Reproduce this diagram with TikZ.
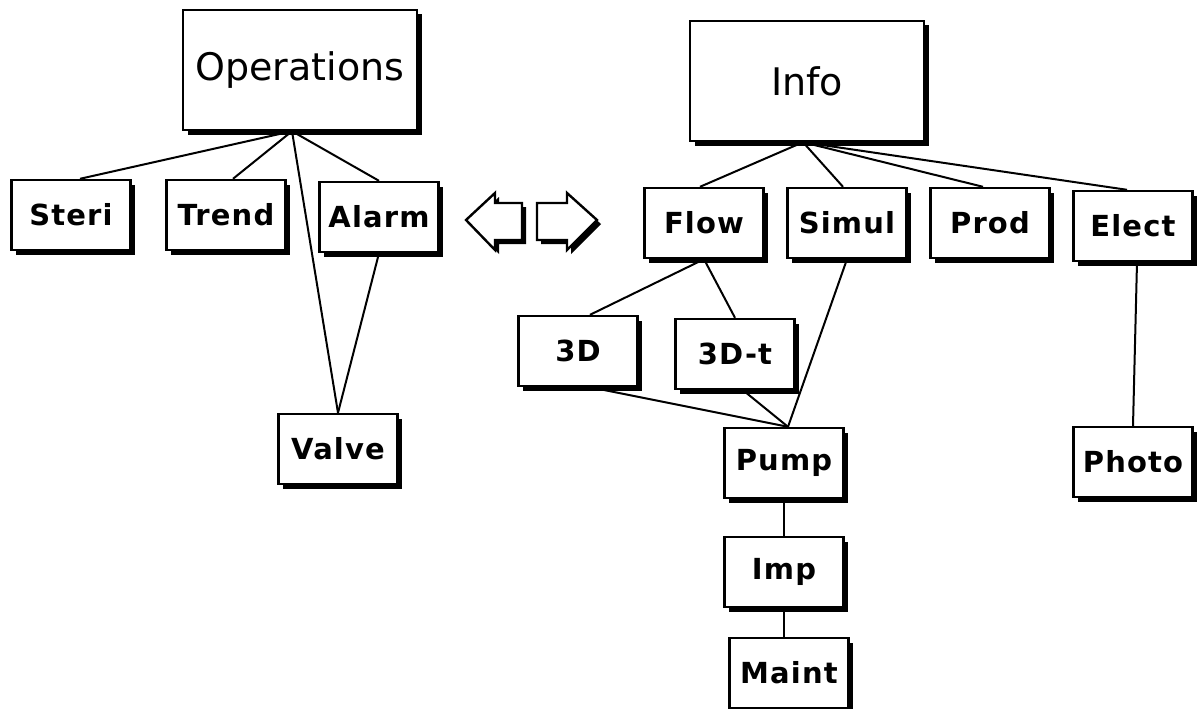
\documentclass[tikz,border=0pt]{standalone}
\usepackage{fontspec}
\setmainfont{DejaVu Sans}
\usetikzlibrary{shadows}

\begin{document}
\begin{tikzpicture}[x=1pt,y=-1pt,
    box/.style={draw,line width=2.4pt,fill=white,inner sep=0pt,
      minimum width=119pt,minimum height=70pt,
      font=\bfseries\fontsize{29}{32}\selectfont\addfontfeatures{LetterSpace=4},
      drop shadow={shadow xshift=4.5pt,shadow yshift=-4.5pt,fill=black,opacity=1}},
    bigbox/.style={box,minimum width=234pt,minimum height=120pt,
      font=\fontsize{38}{44}\selectfont},
    arrowbox/.style={draw,line width=2.4pt,fill=white,line join=miter,
      drop shadow={shadow xshift=4pt,shadow yshift=-4pt,fill=black,opacity=1}},
    link/.style={line width=2pt}]
  \useasboundingbox (0,0) rectangle (1200,709);

  % Operations -- Steri, Trend, Alarm, Valve
  \node[bigbox] (ops)   at (300,70)  {Operations};
  \node[box]    (steri) at (71,215)  {Steri};
  \node[box]    (trend) at (226,215) {Trend};
  \node[box]    (alarm) at (379,217) {Alarm};
  \node[box]    (valve) at (338,449) {Valve};
  \coordinate (opsroot) at ([xshift=-8pt]ops.south);

  % the two arrows in between
  \draw[arrowbox] (466,220) -- (495,193) -- (495,203) -- (522,203)
    -- (522,240) -- (495,240) -- (495,250) -- cycle;
  \draw[arrowbox] (597,220) -- (567,193) -- (567,203) -- (537,203)
    -- (537,240) -- (567,240) -- (567,250) -- cycle;

  % Info -- Flow, Simul, Prod, Elect
  \node[bigbox] (info)  at (807,81)   {Info};
  \node[box]    (flow)  at (704,223)  {Flow};
  \node[box]    (simul) at (847,223)  {Simul};
  \node[box]    (prod)  at (990,223)  {Prod};
  \node[box]    (elect) at (1133,226) {Elect};
  \coordinate (inforoot) at ([xshift=-4pt]info.south);

  % below Flow and Simul
  \node[box] (td)    at (578,351) {3D};
  \node[box] (tdt)   at (735,354) {3D-t};
  \node[box] (pump)  at (784,463) {Pump};
  \node[box] (imp)   at (784,572) {Imp};
  \node[box] (maint) at (789,673) {Maint};
  \coordinate (pumptop) at ([xshift=4pt]pump.north);

  % below Elect
  \node[box] (photo) at (1133,462) {Photo};

  % links
  \draw[link] (opsroot) -- ([xshift=9pt]steri.north);
  \draw[link] (opsroot) -- ([xshift=7pt]trend.north);
  \draw[link] (opsroot) -- (alarm.north);
  \draw[link] (opsroot) -- (valve.north);
  \draw[link] (alarm.south) -- (valve.north);

  \draw[link] (inforoot) -- ([xshift=-4pt]flow.north);
  \draw[link] (inforoot) -- ([xshift=-4pt]simul.north);
  \draw[link] (inforoot) -- ([xshift=-7pt]prod.north);
  \draw[link] (inforoot) -- ([xshift=-6pt]elect.north);

  \draw[link] (flow.south) -- ([xshift=12pt]td.north);
  \draw[link] (flow.south) -- (tdt.north);
  \draw[link] ([xshift=12pt]td.south) -- (pumptop);
  \draw[link] ([xshift=8pt]tdt.south) -- (pumptop);
  \draw[link] (simul.south) -- (pumptop);
  \draw[link] (pump.south) -- (imp.north);
  \draw[link] (imp.south) -- ([xshift=-5pt]maint.north);
  \draw[link] ([xshift=4pt]elect.south) -- (photo.north);
\end{tikzpicture}
\end{document}
